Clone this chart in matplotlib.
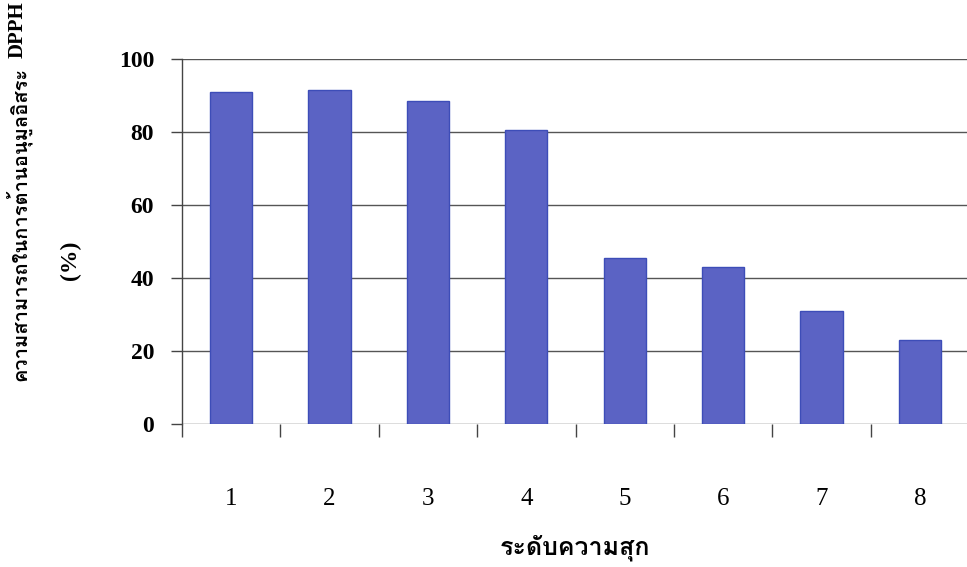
import matplotlib
matplotlib.use("Agg")
import matplotlib.pyplot as plt
from matplotlib import font_manager
from matplotlib.ft2font import FT2Font
from matplotlib.ticker import FixedLocator, NullFormatter

# Ripeness stage vs. DPPH radical scavenging activity (%)
stages = [1, 2, 3, 4, 5, 6, 7, 8]
dpph_activity = [90.9, 91.5, 88.5, 80.5, 45.5, 43.0, 31.0, 23.0]
y_ticks = [0, 20, 40, 60, 80, 100]

ylabel_thai = "ความสามารถในการต้านอนุมูลอิสระ"
ylabel_latin = "DPPH"
ylabel_unit = "(%)"
xlabel = "ระดับความสุก"


def thai_family():
    """Return an installed family that covers Thai script."""
    seen = set()
    for entry in font_manager.fontManager.ttflist:
        if entry.name in seen:
            continue
        seen.add(entry.name)
        try:
            cmap = FT2Font(entry.fname).get_charmap()
        except Exception:
            continue
        if 0x0E01 in cmap and 0x0E2A in cmap and 0x0E38 in cmap:
            return entry.name
    return None


th = thai_family()
thai_fonts = ([th] if th else []) + ["Liberation Serif", "DejaVu Sans"]
serif = ["Liberation Serif", "DejaVu Serif"]

W, H = 967, 567
fig = plt.figure(figsize=(W / 100, H / 100), dpi=100)
fig.patch.set_facecolor("white")

ax = fig.add_axes([182 / W, 143 / H, 787 / W, 365 / H])
ax.set_xlim(0.5, 8.5)
ax.set_ylim(0, 100)

ax.bar(stages, dpph_activity, width=0.43, color="#5b63c4",
       edgecolor="#3d4db8", linewidth=1.0, zorder=3)

# Horizontal grid
for v in y_ticks:
    ax.axhline(v, color="#555555", linewidth=1.0, zorder=1)

for side in ("top", "right", "bottom"):
    ax.spines[side].set_visible(False)
ax.spines["left"].set_color("#444444")
ax.spines["left"].set_linewidth(1.0)

ax.set_yticks(y_ticks)
ax.set_yticklabels([str(v) for v in y_ticks], fontfamily=serif,
                   fontweight="bold", fontsize=17)
ax.tick_params(axis="y", direction="out", length=8, width=1.0,
               color="#444444", pad=12)

# Category labels sit at bar centres, tick marks at category boundaries
ax.set_xticks(stages)
ax.set_xticklabels([str(s) for s in stages], fontfamily=serif, fontsize=18)
ax.tick_params(axis="x", which="major", length=0, pad=46)
ax.xaxis.set_minor_locator(FixedLocator([s - 0.5 for s in stages] + [8.5]))
ax.xaxis.set_minor_formatter(NullFormatter())
ax.tick_params(axis="x", which="minor", direction="out", length=9,
               width=1.0, color="#444444")

fig.text(18 / W, 1 - 224 / H, ylabel_thai, rotation=90, ha="center",
         va="center", fontsize=14.5, fontweight="bold", family=thai_fonts)
fig.text(18 / W, 1 - 30 / H, ylabel_latin, rotation=90, ha="center",
         va="center", fontsize=15, fontweight="bold", family=serif)
fig.text(70 / W, 1 - 260 / H, ylabel_unit, rotation=90, ha="center",
         va="center", fontsize=17, fontweight="bold", family=serif)
fig.text(575 / W, 1 - 548 / H, xlabel, ha="center", va="center",
         fontsize=18, fontweight="bold", family=thai_fonts)

fig.savefig("out.png", dpi=100, facecolor="white")
